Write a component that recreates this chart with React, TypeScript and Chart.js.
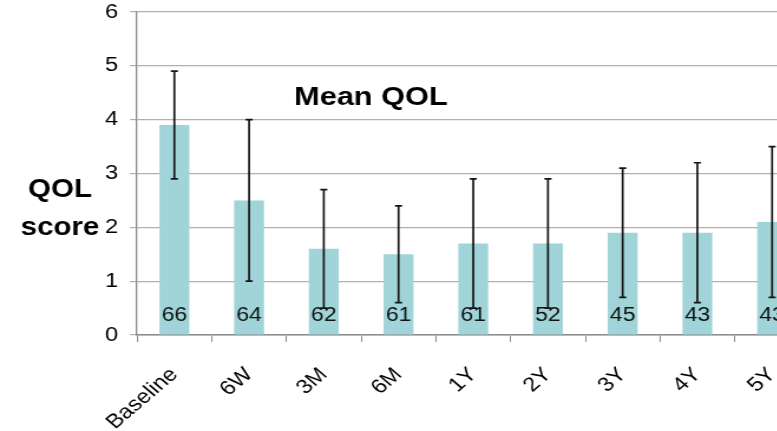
import React, { useEffect, useRef } from "react";
import { Chart, registerables } from "chart.js";

Chart.register(...registerables);

const categories = ["Baseline", "6W", "3M", "6M", "1Y", "2Y", "3Y", "4Y", "5Y"];
const meanQol = [3.9, 2.5, 1.6, 1.5, 1.7, 1.7, 1.9, 1.9, 2.1];
const errLow = [2.9, 1.0, 0.5, 0.6, 0.5, 0.5, 0.7, 0.6, 0.7];
const errHigh = [4.9, 4.0, 2.7, 2.4, 2.9, 2.9, 3.1, 3.2, 3.5];
const counts = ["66", "64", "62", "61", "61", "52", "45", "43", "43"];
const yTicks = [0, 1, 2, 3, 4, 5, 6];

const FONT = "'Liberation Sans', Arial, sans-serif";
const STRETCH = 1.18;
const CANVAS_W = Math.round(809 / STRETCH);
const Y_AXIS_W = 137 / STRETCH;

const overlayPlugin = {
  id: "overlay",
  afterDatasetsDraw(chart: any) {
    const ctx = chart.ctx;
    const xs = chart.scales.x;
    const ys = chart.scales.y;
    ctx.save();
    // error bars
    ctx.strokeStyle = "#141414";
    ctx.lineWidth = 1.7;
    for (let i = 0; i < categories.length; i++) {
      const x = xs.getPixelForValue(i);
      const yl = ys.getPixelForValue(errLow[i]);
      const yh = ys.getPixelForValue(errHigh[i]);
      ctx.beginPath();
      ctx.moveTo(x, yl);
      ctx.lineTo(x, yh);
      ctx.moveTo(x - 3, yl);
      ctx.lineTo(x + 3, yl);
      ctx.moveTo(x - 3, yh);
      ctx.lineTo(x + 3, yh);
      ctx.stroke();
    }
    // counts
    ctx.fillStyle = "#111";
    ctx.font = `19.5px ${FONT}`;
    ctx.textAlign = "center";
    ctx.textBaseline = "middle";
    for (let i = 0; i < categories.length; i++) {
      const x = xs.getPixelForValue(i);
      ctx.fillText(counts[i], x, ys.getPixelForValue(0.36));
    }
    // title
    const step = xs.getPixelForValue(3) - xs.getPixelForValue(2);
    ctx.font = `bold 26px ${FONT}`;
    ctx.textBaseline = "alphabetic";
    ctx.fillStyle = "#000";
    ctx.fillText("Mean QOL", xs.getPixelForValue(2) + 0.63 * step, ys.getPixelForValue(4.45) + 10);
    // y axis title
    ctx.font = `bold 25px ${FONT}`;
    ctx.fillText("QOL", 60 / STRETCH, 197);
    ctx.fillText("score", 60 / STRETCH, 235);
    ctx.restore();
  },
};

export default function App() {
  const ref = useRef<HTMLCanvasElement | null>(null);
  useEffect(() => {
    if (!ref.current) return;
    const chart = new Chart(ref.current, {
      type: "bar",
      data: {
        labels: categories,
        datasets: [
          {
            data: meanQol,
            backgroundColor: "#a0d4d8",
            borderWidth: 0,
            barPercentage: 0.4,
            categoryPercentage: 1,
          },
        ],
      },
      options: {
        responsive: false,
        animation: false,
        events: [],
        layout: { padding: { top: 12, left: 0, right: 0, bottom: 0 } },
        plugins: { legend: { display: false }, tooltip: { enabled: false } },
        scales: {
          x: {
            offset: true,
            grid: {
              display: true,
              drawOnChartArea: false,
              drawTicks: true,
              tickLength: 7,
              color: "#8c8c8c",
              offset: true,
            },
            border: { display: true, color: "#8c8c8c", width: 1.5 },
            ticks: {
              minRotation: 45,
              maxRotation: 45,
              autoSkip: false,
              padding: 21,
              color: "#000",
              font: { family: FONT, size: 20 },
            },
            afterFit(scale: any) {
              scale.height = 96;
              scale.paddingLeft = 0;
              scale.paddingRight = 0;
            },
          },
          y: {
            min: 0,
            max: 6,
            afterBuildTicks(scale: any) {
              scale.ticks = yTicks.map((v) => ({ value: v }));
            },
            grid: {
              color: "#b0b0b0",
              tickLength: 6,
              lineWidth: 1.2,
            },
            border: { display: true, color: "#8c8c8c", width: 1.3 },
            ticks: {
              padding: 10,
              color: "#000",
              font: { family: FONT, size: 20 },
            },
            afterFit(scale: any) {
              scale.width = Y_AXIS_W;
              scale.paddingTop = 0;
              scale.paddingBottom = 0;
            },
          },
        },
      },
      plugins: [overlayPlugin],
    });
    return () => chart.destroy();
  }, []);
  return (
    <div
      style={{
        position: "fixed",
        left: 0,
        top: 0,
        width: 777,
        height: 431,
        overflow: "hidden",
        background: "#fff",
      }}
    >
      <canvas
        ref={ref}
        width={CANVAS_W}
        height={431}
        style={{
          display: "block",
          width: CANVAS_W,
          height: 431,
          transform: `scaleX(${STRETCH})`,
          transformOrigin: "0 0",
        }}
      />
    </div>
  );
}
